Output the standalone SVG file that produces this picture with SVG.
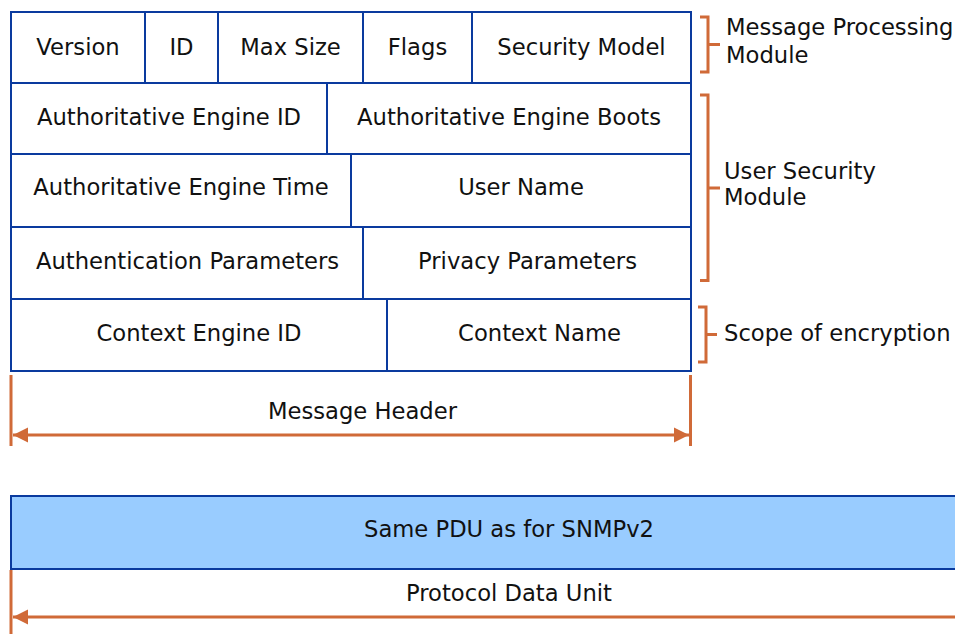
<svg xmlns="http://www.w3.org/2000/svg" width="955" height="634" viewBox="0 0 955 634">
  <defs>
    <style>
      .cell { fill: #ffffff; stroke: #0a3a9e; stroke-width: 2; }
      .pdu { fill: #99ccff; stroke: #0a3a9e; stroke-width: 2; }
      .lbl { font-family: "DejaVu Sans", Verdana, sans-serif; font-size: 22.67px; fill: #111111; text-anchor: middle; }
      .note { font-family: "DejaVu Sans", Verdana, sans-serif; font-size: 22.67px; fill: #111111; }
      .brace { fill: none; stroke: #d06a38; stroke-width: 3; }
      .dim { fill: none; stroke: #d06a38; stroke-width: 3; }
    </style>
    <marker id="arrow" markerUnits="userSpaceOnUse" markerWidth="16" markerHeight="16" viewBox="0 0 16 16" refX="15" refY="8" orient="auto-start-reverse">
      <path d="M0,0.5 L15,8 L0,15.5 z" fill="#d06a38"/>
    </marker>
  </defs>

  <rect width="955" height="634" fill="#ffffff"/>

  <!-- Row 1: message processing fields -->
  <g id="version"><rect class="cell" x="11" y="12" width="134" height="71"/><text class="lbl" x="78" y="54.5">Version</text></g>
  <g id="msg-id"><rect class="cell" x="145" y="12" width="73" height="71"/><text class="lbl" x="181.5" y="54.5">ID</text></g>
  <g id="max-size"><rect class="cell" x="218" y="12" width="145" height="71"/><text class="lbl" x="290.5" y="54.5">Max Size</text></g>
  <g id="flags"><rect class="cell" x="363" y="12" width="109" height="71"/><text class="lbl" x="417.5" y="54.5">Flags</text></g>
  <g id="security-model"><rect class="cell" x="472" y="12" width="219" height="71"/><text class="lbl" x="581.5" y="54.5">Security Model</text></g>

  <!-- Row 2 -->
  <g id="auth-engine-id"><rect class="cell" x="11" y="83" width="316" height="71"/><text class="lbl" x="169" y="124.5">Authoritative Engine ID</text></g>
  <g id="auth-engine-boots"><rect class="cell" x="327" y="83" width="364" height="71"/><text class="lbl" x="509" y="124.5">Authoritative Engine Boots</text></g>

  <!-- Row 3 -->
  <g id="auth-engine-time"><rect class="cell" x="11" y="154" width="340" height="73"/><text class="lbl" x="181" y="195">Authoritative Engine Time</text></g>
  <g id="user-name"><rect class="cell" x="351" y="154" width="340" height="73"/><text class="lbl" x="521" y="195">User Name</text></g>

  <!-- Row 4 -->
  <g id="authentication-params"><rect class="cell" x="11" y="227" width="352" height="72"/><text class="lbl" x="187.5" y="269">Authentication Parameters</text></g>
  <g id="privacy-params"><rect class="cell" x="363" y="227" width="328" height="72"/><text class="lbl" x="527.5" y="269">Privacy Parameters</text></g>

  <!-- Row 5 -->
  <g id="context-engine-id"><rect class="cell" x="11" y="299" width="376" height="72"/><text class="lbl" x="199" y="341">Context Engine ID</text></g>
  <g id="context-name"><rect class="cell" x="387" y="299" width="304" height="72"/><text class="lbl" x="539.5" y="341">Context Name</text></g>

  <!-- PDU block -->
  <g id="pdu"><rect class="pdu" x="11" y="496" width="960" height="73"/><text class="lbl" x="509" y="537">Same PDU as for SNMPv2</text></g>

  <!-- Braces, extents and their labels -->
  <g id="connectors">
    <path class="brace" d="M700,17 H708 V72 H700 M708,44.5 H720"/>
    <path class="brace" d="M700,95 H708 V280.5 H700 M708,188 H720"/>
    <path class="brace" d="M698,307 H706 V362 H698 M706,334.5 H717"/>

    <path class="dim" d="M11,375 V446 M690.5,375 V446"/>
    <line class="dim" x1="13" y1="435" x2="689" y2="435" marker-start="url(#arrow)" marker-end="url(#arrow)"/>

    <path class="dim" d="M11,570 V634"/>
    <line class="dim" x1="13" y1="617" x2="960" y2="617" marker-start="url(#arrow)"/>
  </g>

  <g id="annotations">
    <text class="note" x="726" y="34.5">Message Processing</text>
    <text class="note" x="726" y="62.5">Module</text>
    <text class="note" x="724" y="178.5">User Security</text>
    <text class="note" x="724" y="205">Module</text>
    <text class="note" x="724" y="341">Scope of encryption</text>
    <text class="lbl" x="362.5" y="419">Message Header</text>
    <text class="lbl" x="509" y="601">Protocol Data Unit</text>
  </g>
</svg>
